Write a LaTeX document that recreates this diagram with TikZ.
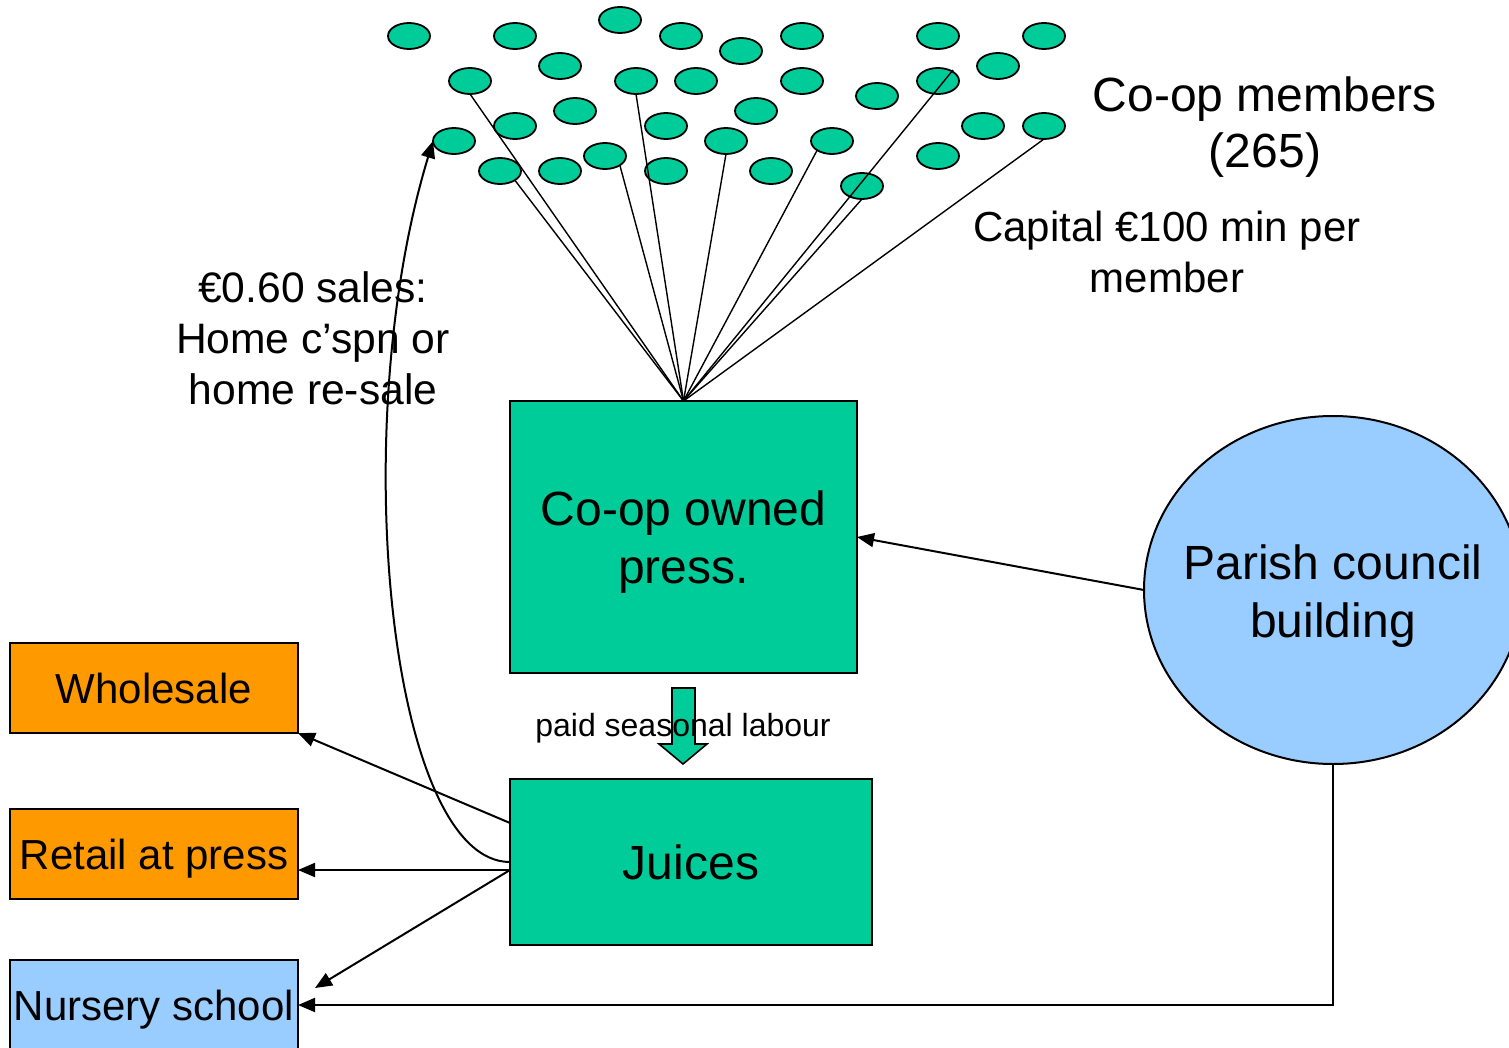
\documentclass[tikz,border=0pt]{standalone}
\usepackage{fontspec}
\setmainfont{Liberation Sans}
\usetikzlibrary{shapes.geometric,arrows.meta}
\definecolor{cgreen}{RGB}{0,204,153}
\definecolor{corange}{RGB}{255,153,0}
\definecolor{cblue}{RGB}{153,204,255}
\begin{document}
\begin{tikzpicture}[x=0.5pt,y=-0.5pt,
 box/.style={draw=black,line width=1pt,inner sep=0pt,outer sep=0pt,align=center},
 member/.style={ellipse,draw=black,line width=0.9pt,fill=cgreen,minimum width=21pt,minimum height=13pt,inner sep=0pt,outer sep=0pt},
 link/.style={line width=0.7pt},
 arr/.style={line width=1pt,-{Triangle[length=8.5pt,width=7pt]}},
 lbl/.style={align=center,inner sep=0pt},
 big/.style={font=\fontsize{24}{29}\selectfont},
 mid/.style={font=\fontsize{21}{25}\selectfont}]
\useasboundingbox (0,0) rectangle (1509,1048);

% members
\foreach \n/\x/\y in {a1/409/36,a2/515/36,a3/681/36,a4/802/36,a5/938/36,a6/1044/36,
  a7/620/20,a8/741/51,a9/560/66,a10/998/66,
  b1/470/81,b2/636/81,b3/696/81,b4/802/81,b5/938/81,b6/877/96,
  c1/575/111,c2/756/111,c3/515/126,c4/666/126,c5/983/126,c6/1044/126,
  d1/454/141,d2/726/141,d3/832/141,d4/605/156,d5/938/156,
  e1/500/171,e2/560/171,e3/666/171,e4/771/171,e5/862/186}
  \node[member] (\n) at (\x,\y) {};

% boxes
\node[box,big,fill=cgreen,minimum width=173.5pt,minimum height=136pt,text depth=0pt] (press) at (683.5,537)
  {Co-op owned\\press.};
\node[box,big,fill=cgreen,minimum width=181pt,minimum height=83pt] (juices) at (691,862)
  {Juices};
\node[box,mid,fill=corange,minimum width=144pt,minimum height=45pt] (wholesale) at (154,688)
  {Wholesale};
\node[box,mid,fill=corange,minimum width=144pt,minimum height=45pt,text depth=0pt] (retail) at (154,854)
  {Retail at press};
\node[box,mid,fill=cblue,minimum width=144pt,minimum height=45pt,text depth=0pt] (nursery) at (154,1005)
  {Nursery school};
\node[box,ellipse,fill=cblue,minimum width=189pt,minimum height=174pt] (parish) at (1333,590) {};
\node[lbl,big] (parishtext) at ([yshift=-3pt]parish.center) {Parish council\\building};

% labels
\node[lbl,font=\fontsize{24}{28}\selectfont] (members) at (1265,127) {Co-op members\\(265)};
\node[lbl,font=\fontsize{21}{25.5}\selectfont] (capital) at (1167,252) {Capital €100 min per\\member};
\node[lbl,font=\fontsize{21.3}{25.5}\selectfont] (sales) at (313,338) {€0.60 sales:\\Home c’spn or\\home re-sale};

% member links
\coordinate (b5end) at (953,70);
\draw[link] (press.north) -- (b1.south);
\draw[link] (press.north) -- (e1.south east);
\draw[link] (press.north) -- (d4.south east);
\draw[link] (press.north) -- (b2.south);
\draw[link] (press.north) -- (d2.south);
\draw[link] (press.north) -- (d3.south west);
\draw[link] (press.north) -- (e5.south);
\draw[link] (press.north) -- (b5end);
\draw[link] (press.north) -- (c6.south);

% curved arrow to members
\draw[arr] (juices.west) .. controls (390,862) and (345,430) .. (d1.west);

% outputs
\draw[arr] ([yshift=19.5pt]juices.west) -- (wholesale.south east);
\draw[arr] ([yshift=-4pt]juices.west) -- ([yshift=-8pt]retail.east);
\coordinate (nurtip) at ([xshift=8.5pt,yshift=8.5pt]nursery.east);
\draw[arr] ([yshift=-4pt]juices.west) -- (nurtip);
\draw[arr] (parish.south) |- (nursery.east);
\draw[arr] (parish.west) -- (press.east);

% block arrow
\draw[line width=0.8pt,fill=cgreen] (672,688) -- (695,688) -- (695,744) -- (707,744) -- (683,764)
  -- (659,744) -- (672,744) -- cycle;
\node[lbl,font=\fontsize{16}{19}\selectfont] (paid) at (683,728) {paid seasonal labour};
\end{tikzpicture}
\end{document}
